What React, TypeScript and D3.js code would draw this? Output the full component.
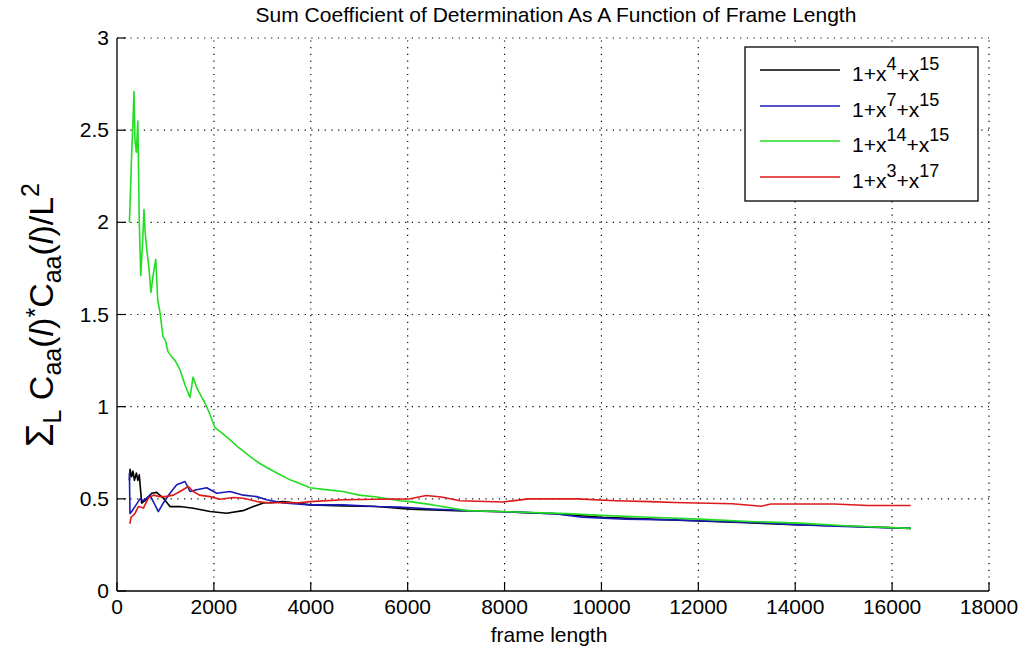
import React from "react";
import * as d3 from "d3";

const title = "Sum Coefficient of Determination As A Function of Frame Length";
const xLabel = "frame length";
const xTicks = [0, 2000, 4000, 6000, 8000, 10000, 12000, 14000, 16000, 18000];
const yTicks = [0, 0.5, 1, 1.5, 2, 2.5, 3];

const black: [number, number][] = [
  [256, 0.6], [270, 0.66], [300, 0.62], [330, 0.65], [360, 0.6], [400, 0.64], [430, 0.6], [460, 0.63],
  [509, 0.477], [600, 0.495], [715, 0.53], [818, 0.535], [955, 0.504], [1094, 0.458], [1300, 0.458],
  [1576, 0.449], [1920, 0.431], [2264, 0.422], [2600, 0.436], [2815, 0.458], [3020, 0.477], [3430, 0.485],
  [3700, 0.477], [3984, 0.467], [4670, 0.462], [5360, 0.458], [6050, 0.444], [7000, 0.435], [8000, 0.43],
  [9000, 0.42], [10000, 0.4], [11000, 0.39], [12000, 0.38], [13000, 0.37], [14000, 0.36], [15000, 0.353],
  [16384, 0.34],
];

const blue: [number, number][] = [
  [256, 0.64], [268, 0.42], [300, 0.43], [370, 0.458], [475, 0.5], [550, 0.49], [681, 0.52], [853, 0.431],
  [955, 0.477], [1094, 0.53], [1232, 0.576], [1404, 0.594], [1507, 0.54], [1645, 0.549], [1851, 0.56],
  [2058, 0.53], [2333, 0.54], [2608, 0.52], [2883, 0.512], [3090, 0.495], [3434, 0.477], [3984, 0.467],
  [4670, 0.467], [5360, 0.458], [5842, 0.455], [6500, 0.445], [7225, 0.436], [8000, 0.43], [9000, 0.42],
  [9600, 0.4], [10500, 0.39], [11500, 0.386], [12500, 0.377], [13500, 0.368], [14000, 0.36], [15000, 0.35],
  [16384, 0.34],
];

const green: [number, number][] = [
  [256, 2.0], [270, 2.1], [300, 2.35], [330, 2.55], [350, 2.71], [370, 2.45], [400, 2.38], [430, 2.55],
  [460, 2.0], [490, 1.71], [530, 1.9], [557, 2.07], [580, 1.95], [620, 1.84], [660, 1.75], [700, 1.62],
  [750, 1.72], [800, 1.8], [840, 1.58], [888, 1.51], [950, 1.38], [1000, 1.36], [1050, 1.3], [1129, 1.27],
  [1200, 1.25], [1300, 1.2], [1400, 1.12], [1507, 1.05], [1570, 1.16], [1650, 1.1], [1750, 1.05],
  [1816, 1.02], [1900, 0.97], [2023, 0.886], [2150, 0.86], [2333, 0.82], [2500, 0.78], [2745, 0.73],
  [2900, 0.7], [3090, 0.67], [3300, 0.64], [3571, 0.603], [3800, 0.58], [3984, 0.56], [4300, 0.55],
  [4665, 0.54], [5000, 0.52], [5367, 0.51], [5842, 0.49], [6048, 0.485], [6523, 0.467], [7225, 0.436],
  [8050, 0.43], [9290, 0.42], [10000, 0.41], [11000, 0.4], [12030, 0.39], [13060, 0.377], [14090, 0.368],
  [15130, 0.353], [16384, 0.34],
];

const red: [number, number][] = [
  [256, 0.37], [268, 0.368], [290, 0.4], [370, 0.42], [440, 0.458], [545, 0.45], [647, 0.504], [750, 0.52],
  [887, 0.512], [1000, 0.512], [1163, 0.52], [1300, 0.54], [1473, 0.567], [1576, 0.54], [1700, 0.52],
  [1920, 0.512], [2127, 0.498], [2400, 0.507], [2608, 0.503], [2900, 0.485], [3160, 0.477], [3430, 0.48],
  [3708, 0.477], [3984, 0.485], [4670, 0.495], [5360, 0.498], [6050, 0.5], [6380, 0.518], [6700, 0.51],
  [7080, 0.49], [7970, 0.483], [8500, 0.5], [9500, 0.5], [10300, 0.49], [11000, 0.485], [11500, 0.48],
  [12700, 0.473], [13300, 0.46], [13500, 0.472], [14800, 0.472], [15500, 0.464], [16384, 0.464],
];

const seriesNames = [
  { base: "4", top: "15" },
  { base: "7", top: "15" },
  { base: "14", top: "15" },
  { base: "3", top: "17" },
];
const seriesData = [black, blue, green, red];
const seriesColors = ["#000000", "#1a1ab8", "#22dd22", "#dd1a1a"];

const W = 1027;
const H = 649;
const left = 117;
const right = 989;
const top = 38;
const bottom = 591;
const FONT = "'Liberation Sans', Arial, Helvetica, sans-serif";

export default function App() {
  const x = d3.scaleLinear().domain([0, 18000]).range([left, right]);
  const y = d3.scaleLinear().domain([0, 3]).range([bottom, top]);
  const line = d3
    .line<[number, number]>()
    .x((d) => x(d[0]))
    .y((d) => y(d[1]))
    .curve(d3.curveLinear);

  const legX0 = 745;
  const legY0 = 47;
  const legW = 233;
  const legH = 154;
  const rowYs = [70, 106, 141, 177];

  return (
    <div style={{ position: "fixed", left: 0, top: 0 }}>
      <svg width={W} height={H} style={{ display: "block", background: "#fff" }} fontFamily={FONT}>
        <rect x={0} y={0} width={W} height={H} fill="#fff" />
        {xTicks.slice(1).map((t) => (
          <line key={"gx" + t} x1={x(t)} x2={x(t)} y1={bottom} y2={top} stroke="#000" strokeWidth={1.2} strokeDasharray="1.2,5.5" />
        ))}
        {yTicks.slice(1).map((t) => (
          <line key={"gy" + t} x1={left} x2={right} y1={y(t)} y2={y(t)} stroke="#000" strokeWidth={1.2} strokeDasharray="1.2,5.5" />
        ))}
        {seriesData.map((d, i) => (
          <path key={"s" + i} d={line(d) || ""} fill="none" stroke={seriesColors[i]} strokeWidth={1.6} strokeLinejoin="round" />
        ))}
        <line x1={left} x2={right} y1={bottom} y2={bottom} stroke="#000" strokeWidth={1.3} />
        <line x1={left} x2={left} y1={bottom} y2={top} stroke="#000" strokeWidth={1.3} />
        {xTicks.map((t) => (
          <line key={"tx" + t} x1={x(t)} x2={x(t)} y1={bottom} y2={bottom - 9} stroke="#000" strokeWidth={1.2} />
        ))}
        {yTicks.map((t) => (
          <line key={"ty" + t} x1={left} x2={left + 9} y1={y(t)} y2={y(t)} stroke="#000" strokeWidth={1.2} />
        ))}
        {xTicks.map((t) => (
          <text key={"lx" + t} x={x(t)} y={bottom + 23} textAnchor="middle" fontSize={21} fill="#000">
            {String(t)}
          </text>
        ))}
        {yTicks.map((t) => (
          <text key={"ly" + t} x={left - 8} y={y(t) + 7} textAnchor="end" fontSize={21} fill="#000">
            {String(t)}
          </text>
        ))}
        <text x={556} y={22} textAnchor="middle" fontSize={21} fill="#000">
          {title}
        </text>
        <text x={549} y={642} textAnchor="middle" fontSize={21} fill="#000">
          {xLabel}
        </text>
        <text transform="translate(53,315) rotate(-90)" textAnchor="middle" fontSize={34} fill="#000">
          <tspan fontSize={38}>Σ</tspan>
          <tspan fontSize={25} dy={8}>L</tspan>
          <tspan dy={-8}> C</tspan>
          <tspan fontSize={25} dy={8}>aa</tspan>
          <tspan dy={-8}>(</tspan>
          <tspan fontStyle="italic">l</tspan>
          <tspan>)</tspan>
          <tspan fontSize={25} dy={-9}>*</tspan>
          <tspan dy={9}>C</tspan>
          <tspan fontSize={25} dy={8}>aa</tspan>
          <tspan dy={-8}>(</tspan>
          <tspan fontStyle="italic">l</tspan>
          <tspan>)/L</tspan>
          <tspan fontSize={25} dy={-14}>2</tspan>
        </text>
        <rect x={legX0} y={legY0} width={legW} height={legH} fill="#fff" stroke="#000" strokeWidth={1.3} />
        {seriesNames.map((s, i) => (
          <g key={"leg" + i}>
            <line x1={760} x2={840} y1={rowYs[i]} y2={rowYs[i]} stroke={seriesColors[i]} strokeWidth={1.5} />
            <text x={852} y={rowYs[i] + 11} fontSize={21} fill="#000">
              <tspan>1+x</tspan>
              <tspan fontSize={18} dy={-11}>{s.base}</tspan>
              <tspan dy={11}>+x</tspan>
              <tspan fontSize={18} dy={-11}>{s.top}</tspan>
            </text>
          </g>
        ))}
      </svg>
    </div>
  );
}
